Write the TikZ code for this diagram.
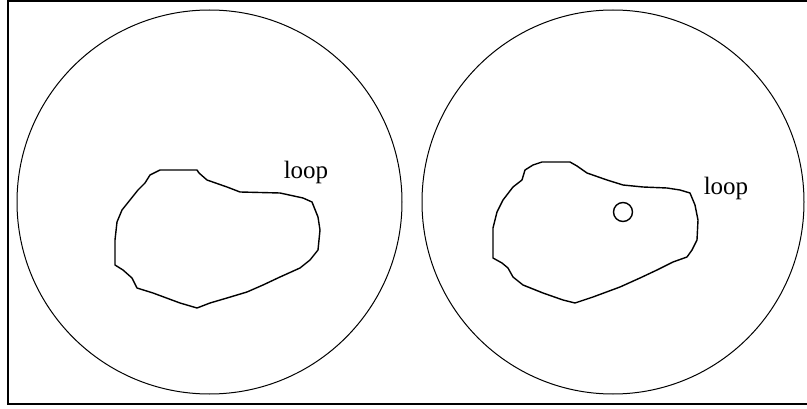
\documentclass[tikz,border=0pt]{standalone}
\usepackage{fontspec}
\setmainfont{Liberation Serif}
\begin{document}
\begin{tikzpicture}[x=1pt,y=-1pt,
  outer/.style={draw=black,line width=1pt},
  blob/.style={draw=black,line width=1.4pt,line join=round},
  lbl/.style={inner sep=0pt,font=\fontsize{25}{29}\selectfont}]
\useasboundingbox (0,0) rectangle (807,409);
% frame
\draw[line width=2pt,line join=miter] (820,404) -- (8,404) -- (8,1) -- (820,1);
% outer circles
\draw[outer] (209.5,202) ellipse [x radius=192.5pt, y radius=192pt];
\draw[outer] (613,202) ellipse [x radius=191pt, y radius=192pt];
% left loop
\draw[blob] (160,170) -- (197,170) -- (199,173) -- (207,180) -- (227,187) -- (240,192)
  -- (280,193) -- (303,198) -- (312,202) -- (318,217) -- (320,230) -- (318,250)
  -- (310,260) -- (300,268) -- (280,277) -- (263,285) -- (247,292) -- (227,298)
  -- (210,303) -- (197,308) -- (180,303) -- (153,293) -- (137,288) -- (132,278)
  -- (123,270) -- (115,265) -- (115,240) -- (117,222) -- (122,210) -- (130,200)
  -- (138,190) -- (145,183) -- (150,175) -- cycle;
% right loop
\draw[blob] (542,162) -- (570,162) -- (577,166) -- (587,173) -- (607,180) -- (623,185)
  -- (643,187) -- (667,188) -- (680,190) -- (690,193) -- (695,205) -- (698,220)
  -- (697,240) -- (692,250) -- (687,257) -- (673,262) -- (657,270) -- (640,278)
  -- (620,287) -- (593,297) -- (575,303) -- (563,300) -- (543,293) -- (523,285)
  -- (513,277) -- (508,268) -- (502,263) -- (493,258) -- (493,228) -- (497,212)
  -- (503,200) -- (513,187) -- (522,180) -- (525,170) -- (533,165) -- cycle;
% small circle
\draw[blob] (623,212) circle [radius=9.5pt];
% labels
\node[lbl] (loopL) at (306,172) {loop};
\node[lbl] (loopR) at (726,188) {loop};
\end{tikzpicture}
\end{document}
